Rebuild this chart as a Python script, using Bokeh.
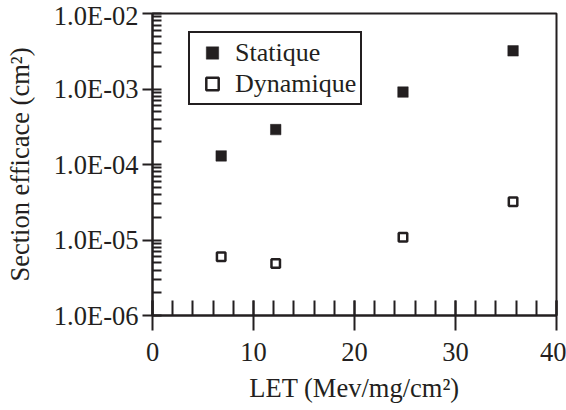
from bokeh.plotting import figure
from bokeh.models import FixedTicker, CustomJSTickFormatter, Legend, LegendItem, Range1d
from bokeh.embed import file_html
from bokeh.resources import INLINE

let_vals = [6.8, 12.2, 24.8, 35.7]
statique = [1.3e-4, 2.9e-4, 9.1e-4, 3.2e-3]
dynamique = [6.0e-6, 4.9e-6, 1.09e-5, 3.2e-5]

x_major = [0, 10, 20, 30, 40]
x_minor = list(range(0, 41, 2))
y_major = [1e-6, 1e-5, 1e-4, 1e-3, 1e-2]
y_minor = [k * d for d in [1e-6, 1e-5, 1e-4, 1e-3] for k in range(2, 10)]

INK = "#231f20"
FONT = "'Liberation Serif', 'Times New Roman', serif"

p = figure(width=566, height=410, y_axis_type="log",
           x_range=Range1d(0, 40), y_range=Range1d(1e-6, 1e-2),
           output_backend="svg", toolbar_location=None,
           min_border_left=152, min_border_right=10, min_border_top=13, min_border_bottom=95)

p.grid.visible = False
p.outline_line_color = INK
p.outline_line_width = 2
p.outline_line_alpha = 1
p.background_fill_color = "white"
p.border_fill_color = "white"

r1 = p.scatter(let_vals, statique, marker="square", size=10.5,
               fill_color=INK, line_color=INK, line_width=0.5)
r2 = p.scatter(let_vals, dynamique, marker="square", size=8.5,
               fill_color="white", line_color=INK, line_width=2.5)

xa = p.xaxis[0]
xa.ticker = FixedTicker(ticks=x_major, minor_ticks=x_minor)
xa.major_tick_in = 15
xa.major_tick_out = 15
xa.minor_tick_in = 15
xa.minor_tick_out = 0
xa.axis_label = "LET (Mev/mg/cm²)"
xa.major_label_standoff = 12

ya = p.yaxis[0]
ya.ticker = FixedTicker(ticks=y_major, minor_ticks=y_minor)
ya.major_tick_in = 9
ya.major_tick_out = 10
ya.minor_tick_in = 9
ya.minor_tick_out = 0
ya.axis_label = "Section efficace (cm²)"
ya.major_label_standoff = 4
ya.axis_label_standoff = 16
ya.formatter = CustomJSTickFormatter(code="""
const e = Math.round(Math.log10(tick));
const m = tick / Math.pow(10, e);
const a = Math.abs(e);
return m.toFixed(1) + 'E' + (e < 0 ? '-' : '+') + (a < 10 ? '0' : '') + a;
""")

for ax in (xa, ya):
    ax.axis_line_color = INK
    ax.axis_line_width = 2
    ax.major_tick_line_color = INK
    ax.major_tick_line_width = 2
    ax.minor_tick_line_color = INK
    ax.minor_tick_line_width = 2
    ax.major_label_text_font = FONT
    ax.major_label_text_font_size = "26.5px"
    ax.major_label_text_color = INK
    ax.axis_label_text_font = FONT
    ax.axis_label_text_font_size = "26.5px"
    ax.axis_label_text_font_style = "normal"
    ax.axis_label_text_color = INK
xa.axis_label_standoff = 9

legend = Legend(items=[LegendItem(label="Statique", renderers=[r1]),
                       LegendItem(label="Dynamique", renderers=[r2])],
                location=(36, 210), orientation="vertical",
                glyph_width=36, glyph_height=31, spacing=0, padding=4,
                margin=0, label_standoff=5, label_height=20,
                label_text_font=FONT, label_text_font_size="26px", label_text_color=INK,
                label_text_baseline="middle",
                border_line_color=INK, border_line_width=2.5, border_line_alpha=1,
                background_fill_color="white", background_fill_alpha=1)
p.add_layout(legend)

open("out.html", "w").write(file_html(p, INLINE))
